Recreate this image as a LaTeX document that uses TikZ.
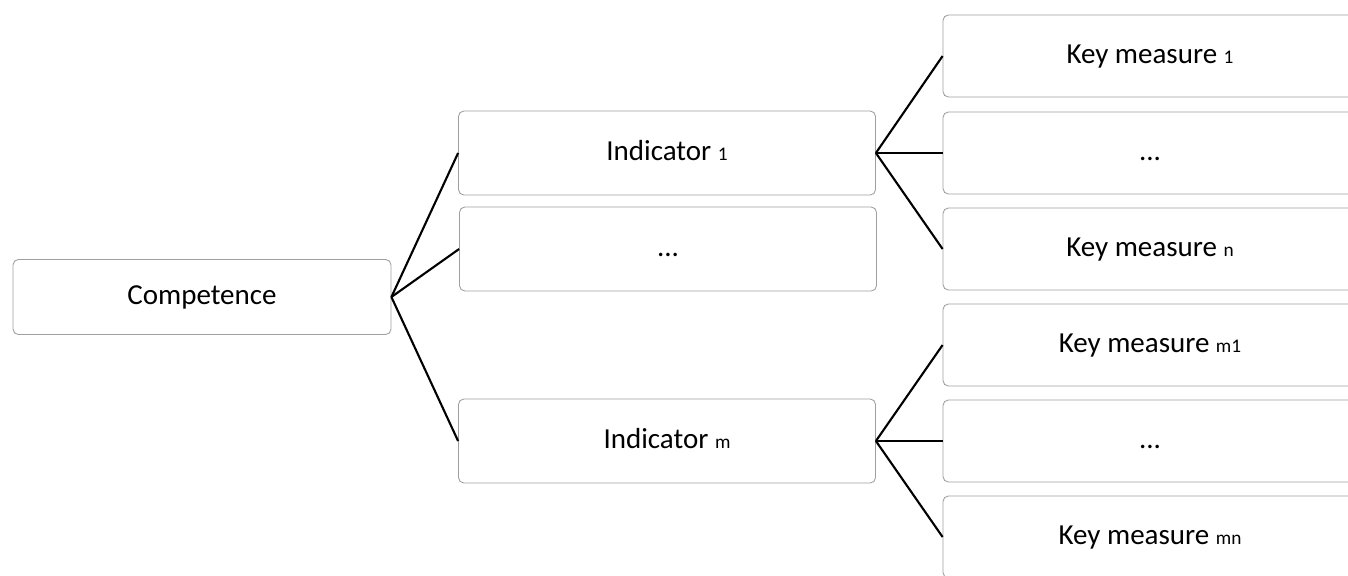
\documentclass[tikz,border=0pt]{standalone}
\usepackage{fontspec}
\setmainfont{Carlito}
\usetikzlibrary{positioning}

\newcommand{\smallidx}[1]{{\fontsize{11}{11}\selectfont #1}}

\begin{document}
\begin{tikzpicture}[x=0.02cm,y=-0.02cm,
  box/.style={draw=gray!75,line width=0.5pt,rounded corners=3pt,fill=white,
    font=\fontsize{16.5}{19}\selectfont,inner sep=0pt,text height=11.5pt,text depth=3.5pt},
  compbox/.style={box,minimum width=7.56cm,minimum height=1.5cm},
  indbox/.style={box,minimum width=8.34cm,minimum height=1.68cm},
  keybox/.style={box,minimum width=8.28cm,minimum height=1.64cm},
  link/.style={line width=1.2pt}]
\clip (0,0) rectangle (1348,575);

\node[compbox] (comp) at (202,297) {Competence};

\node[indbox] (ind1) at (667,153) {Indicator \smallidx{1}};
\node[indbox] (inddots) at (668,249) {...};
\node[indbox] (indm) at (667,441) {Indicator \smallidx{m}};

\node[keybox] (key1) at (1150,56) {Key measure \smallidx{1}};
\node[keybox] (keydotsa) at (1150,153) {...};
\node[keybox] (keyn) at (1150,249) {Key measure \smallidx{n}};
\node[keybox] (keym1) at (1150,345) {Key measure \smallidx{m1}};
\node[keybox] (keydotsb) at (1150,441) {...};
\node[keybox] (keymn) at (1150,537) {Key measure \smallidx{mn}};

\draw[link] (comp.east) -- (ind1.west);
\draw[link] (comp.east) -- (inddots.west);
\draw[link] (comp.east) -- (indm.west);

\draw[link] (ind1.east) -- (key1.west);
\draw[link] (ind1.east) -- (keydotsa.west);
\draw[link] (ind1.east) -- (keyn.west);

\draw[link] (indm.east) -- (keym1.west);
\draw[link] (indm.east) -- (keydotsb.west);
\draw[link] (indm.east) -- (keymn.west);
\end{tikzpicture}
\end{document}
